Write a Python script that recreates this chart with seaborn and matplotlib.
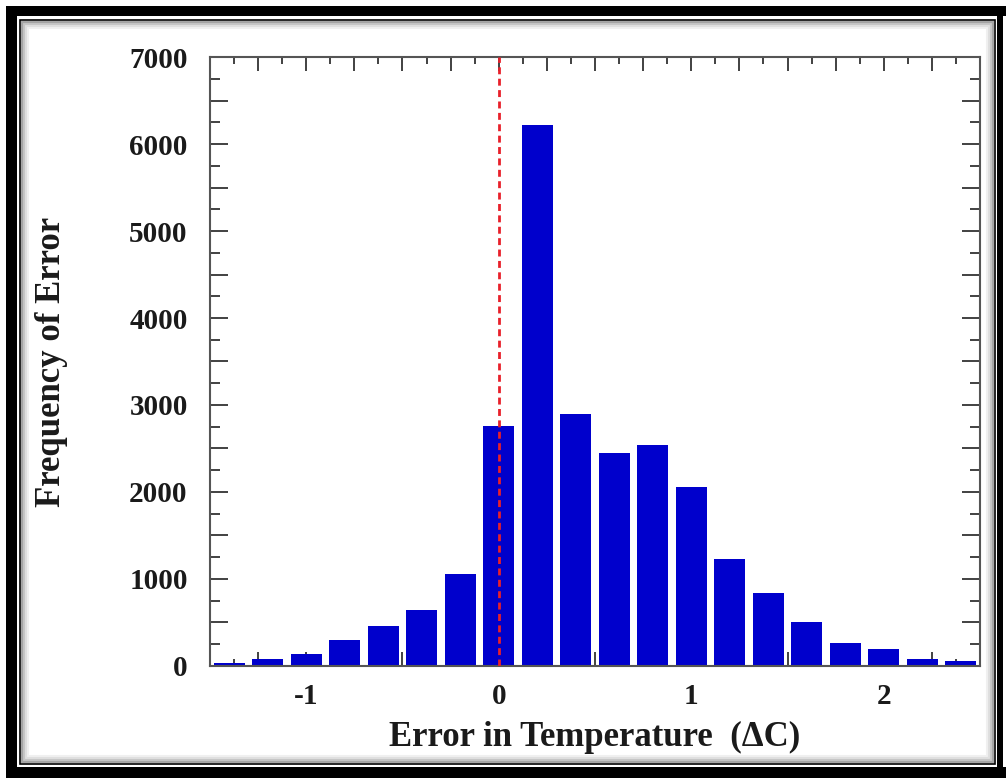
import numpy as np
import matplotlib
matplotlib.use("Agg")
import matplotlib.pyplot as plt
from matplotlib.patches import Rectangle
from matplotlib.ticker import MultipleLocator
import seaborn as sns
import pandas as pd

# Histogram of temperature error (bin centres in deg C, counts)
bin_centers = [-1.4, -1.2, -1.0, -0.8, -0.6, -0.4, -0.2, 0.0, 0.2, 0.4,
               0.6, 0.8, 1.0, 1.2, 1.4, 1.6, 1.8, 2.0, 2.2, 2.4]
counts = [30, 85, 140, 300, 455, 640, 1060, 2760, 6220, 2900,
          2450, 2535, 2060, 1225, 835, 500, 260, 190, 80, 55]
xtick_values = [-1, 0, 1, 2]
ytick_values = [0, 1000, 2000, 3000, 4000, 5000, 6000, 7000]

BAR_COLOR = "#0000cc"
TEXT_COLOR = "#1a1a1a"
FONT = ["Liberation Serif", "DejaVu Serif"]

sns.set_style("white")
plt.rcParams["font.family"] = FONT
plt.rcParams["font.weight"] = "bold"
plt.rcParams["text.color"] = TEXT_COLOR
plt.rcParams["axes.labelcolor"] = TEXT_COLOR
plt.rcParams["xtick.labelcolor"] = TEXT_COLOR
plt.rcParams["ytick.labelcolor"] = TEXT_COLOR

df = pd.DataFrame({"error": bin_centers, "count": counts})

fig = plt.figure(figsize=(10.06, 7.78), dpi=100)
ax = fig.add_axes([0.2087, 0.1440, 0.7655, 0.7827])

sns.barplot(data=df, x="error", y="count", native_scale=True, color=BAR_COLOR,
            saturation=1, width=0.8, edgecolor="none", ax=ax, zorder=2)
ax.axvline(0, color="#e8202a", linestyle=(0, (2.5, 1.6)), linewidth=2, zorder=3)

ax.set_xlim(-1.5, 2.5)
ax.set_ylim(0, 7000)

# ticks: labelled majors, unlabelled intermediate majors, short minors
xt = np.arange(-1.5, 2.51, 0.25)
ax.set_xticks(xt)
ax.set_xticklabels([str(int(v)) if v in xtick_values else "" for v in xt])
ax.xaxis.set_minor_locator(MultipleLocator(0.125))
yt = np.arange(0, 7001, 500)
ax.set_yticks(yt)
ax.set_yticklabels([str(int(v)) if v in ytick_values else "" for v in yt])
ax.yaxis.set_minor_locator(MultipleLocator(250))

ax.tick_params(which="both", direction="in", top=True, right=True, bottom=True, left=True,
               color="#333333", width=1.3, labelsize=21)
ax.tick_params(which="major", length=10)
ax.tick_params(which="minor", length=5)
ax.tick_params(axis="y", which="major", length=13, pad=16)
ax.tick_params(axis="y", which="minor", length=7)
ax.tick_params(axis="x", which="major", pad=12)
for lab in ax.get_xticklabels() + ax.get_yticklabels():
    lab.set_fontweight("bold")

for sp in ax.spines.values():
    sp.set_color("#555555")
    sp.set_linewidth(1.5)

ax.set_xlabel("Error in Temperature  (\u0394C)", fontsize=25, fontweight="bold")
ax.set_ylabel("Frequency of Error", fontsize=25, fontweight="bold")
ax.xaxis.set_label_coords(0.5, -0.090)
ax.yaxis.set_label_coords(-0.184, 0.5)

# picture frame around the figure
W, H = 1006.0, 778.0
def fig_rect(x0, y0, x1, y1, **kw):
    # pixel coords measured from top-left
    fig.add_artist(Rectangle((x0 / W, 1 - y1 / H), (x1 - x0) / W, (y1 - y0) / H,
                             transform=fig.transFigure, **kw))

fig_rect(6, 6, 1006, 16, color="black", lw=0)
fig_rect(6, 6, 17, 778, color="black", lw=0)
fig_rect(6, 767, 1006, 778, color="black", lw=0)
fig_rect(997, 6, 1003, 778, color="black", lw=0)
for i, a in enumerate([0.35, 0.22, 0.12, 0.06]):
    fig_rect(22 + i * 2, 22 + i * 2, 993 - i * 2, 762 - i * 2, fill=False,
             edgecolor="black", alpha=a, lw=1.5)
fig_rect(19.5, 19.5, 995, 764, fill=False, edgecolor="black", lw=1.2)

fig.savefig("out.png", dpi=100)
